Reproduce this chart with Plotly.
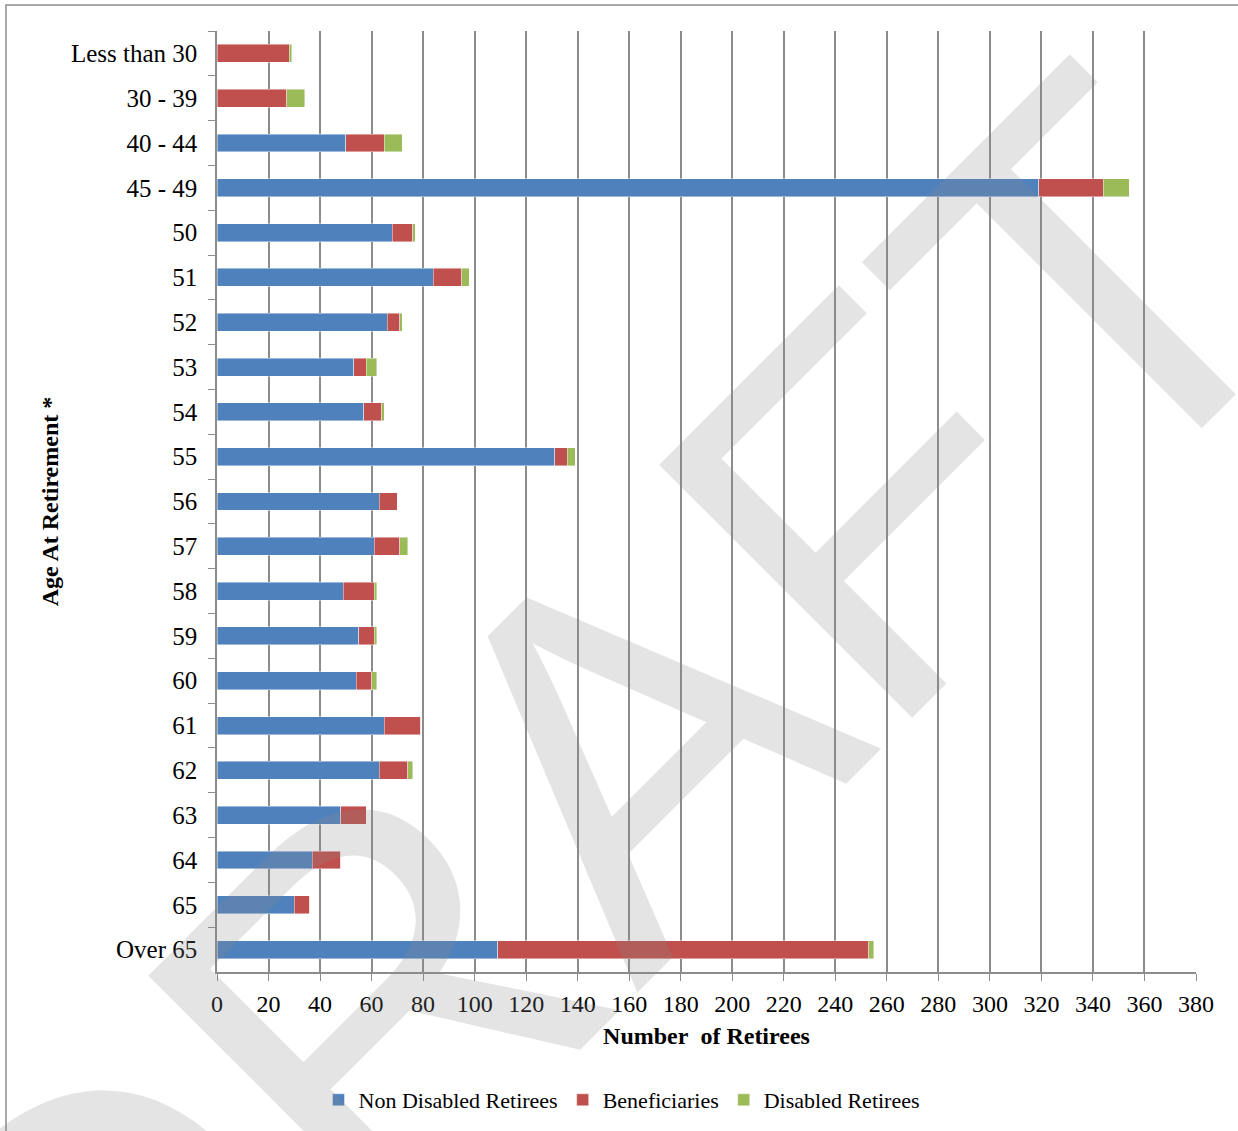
import plotly.graph_objects as go

categories = ["Less than 30", "30 - 39", "40 - 44", "45 - 49", "50", "51", "52", "53", "54",
              "55", "56", "57", "58", "59", "60", "61", "62", "63", "64", "65", "Over 65"]
non_disabled = [0, 0, 50, 319, 68, 84, 66, 53, 57, 131, 63, 61, 49, 55, 54, 65, 63, 48, 37, 30, 109]
beneficiaries = [28, 27, 15, 25, 8, 11, 5, 5, 7, 5, 7, 10, 12, 6, 6, 14, 11, 10, 11, 6, 144]
disabled = [1, 7, 7, 10, 1, 3, 1, 4, 1, 3, 0, 3, 1, 1, 2, 0, 2, 0, 0, 0, 2]
x_ticks = list(range(0, 381, 20))

W, H = 1238, 1131
L, R, T, B = 217, 1196, 31, 972


def px(x):
    return (x - L) / (R - L)


def py(y):
    return (B - y) / (B - T)


serif = "Liberation Serif, Times New Roman, serif"
grey = "#8c8c8c"

fig = go.Figure()
series = [
    ("Non Disabled Retirees", non_disabled, "#4F81BD"),
    ("Beneficiaries", beneficiaries, "#C0504D"),
    ("Disabled Retirees", disabled, "#9BBB59"),
]
for name, vals, col in series:
    fig.add_trace(go.Bar(
        y=categories, x=vals, name=name, orientation="h",
        marker=dict(color=col, line=dict(color="rgba(255,255,255,0.55)", width=0.8)),
    ))

fig.update_layout(
    width=W, height=H,
    margin=dict(l=L, r=W - R, t=T, b=H - B, pad=0, autoexpand=False),
    barmode="stack", bargap=0.6,
    paper_bgcolor="white", plot_bgcolor="white",
    font=dict(family=serif, size=24, color="black"),
    legend=dict(orientation="h", x=px(622), y=py(1100), xanchor="center", yanchor="middle",
                font=dict(family=serif, size=22), traceorder="normal", itemwidth=30),
    showlegend=True,
)
fig.update_xaxes(
    range=[0, 380], tickvals=x_ticks, ticktext=[str(v) for v in x_ticks],
    showgrid=True, gridcolor=grey, gridwidth=1.5, zeroline=False,
    showline=True, linecolor=grey, linewidth=1.5, automargin=False,
    ticks="outside", ticklen=7, tickcolor=grey, tickwidth=1.2,
    tickfont=dict(family=serif, size=24), ticklabelstandoff=2,
    title=dict(text="<b>Number\u00a0\u00a0of Retirees</b>", font=dict(family=serif, size=24), standoff=12),
)
fig.update_yaxes(
    type="category", categoryorder="array", categoryarray=categories, autorange="reversed",
    showgrid=False, zeroline=False, automargin=False,
    showline=True, linecolor=grey, linewidth=1.5,
    ticks="outside", ticklen=7, tickcolor=grey, tickwidth=1.2, tickson="boundaries",
    tickfont=dict(family=serif, size=25), ticklabelstandoff=13,
    title=dict(text="<b>Age At Retirement *</b>", font=dict(family=serif, size=24), standoff=5),
)

# chart frame
fig.add_shape(type="rect", xref="paper", yref="paper",
              x0=px(6), x1=px(1250), y0=py(1145), y1=py(5),
              line=dict(color=grey, width=1.5), fillcolor="rgba(0,0,0,0)", layer="above")

# watermark
fig.add_annotation(
    text="DRAFT", xref="paper", yref="paper", x=px(590), y=py(784),
    xanchor="center", yanchor="middle", showarrow=False, textangle=-45,
    font=dict(family="Liberation Sans, Arial, sans-serif", size=520, color="rgba(140,140,140,0.23)"),
)

fig.write_html("out.html")
